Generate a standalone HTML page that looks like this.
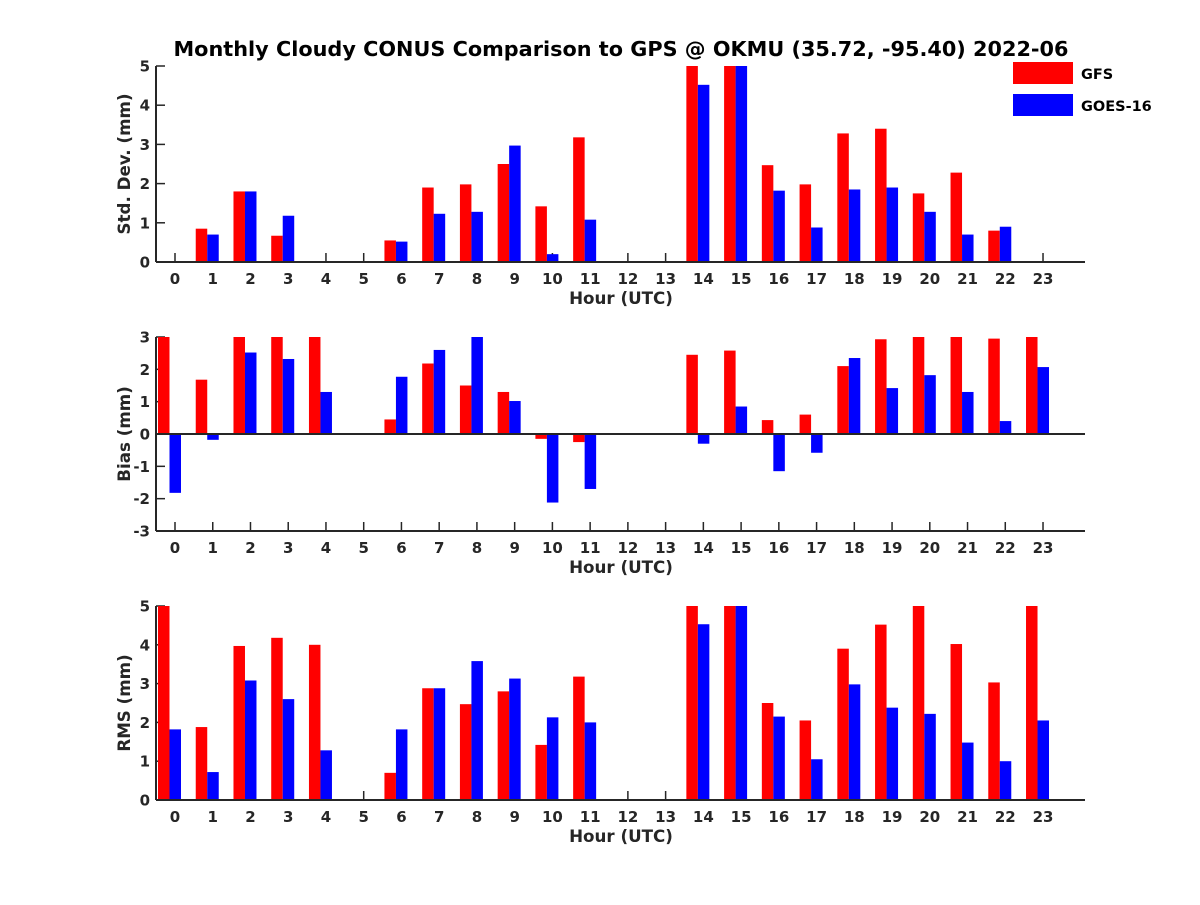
<!DOCTYPE html>
<html><head><meta charset="utf-8"><style>
body{margin:0;background:#fff}
svg text{font-family:"DejaVu Sans","Liberation Sans",sans-serif;font-weight:bold;fill:#262626}
</style></head><body>
<svg id="chart" width="1200" height="900" xmlns="http://www.w3.org/2000/svg">
<rect width="1200" height="900" fill="#fff"/>
<text x="621" y="56" text-anchor="middle" font-size="20.8" style="fill:#000">Monthly Cloudy CONUS Comparison to GPS @ OKMU (35.72, -95.40) 2022-06</text>
<g>
<rect x="1013" y="62" width="60" height="22" fill="#ff0000"/>
<text x="1081" y="79" font-size="14.5" style="fill:#000">GFS</text>
<rect x="1013" y="94" width="60" height="22" fill="#0000ff"/>
<text x="1081" y="111" font-size="14.5" style="fill:#000">GOES-16</text>
</g>
<g id="plots"></g>
</svg>
<script>
const hours=[0,1,2,3,4,5,6,7,8,9,10,11,12,13,14,15,16,17,18,19,20,21,22,23];
const stdGFS=[0,0.85,1.8,0.67,0,0,0.55,1.9,1.98,2.5,1.42,3.18,0,0,5,5,2.47,1.98,3.28,3.4,1.75,2.28,0.8,0];
const stdGOES=[0,0.7,1.8,1.18,0,0,0.52,1.23,1.28,2.97,0.2,1.08,0,0,4.52,5,1.82,0.88,1.85,1.9,1.28,0.7,0.9,0];
const biasGFS=[3,1.68,3,3,3,0,0.45,2.18,1.5,1.3,-0.15,-0.25,0,0,2.45,2.58,0.43,0.6,2.1,2.93,3,3,2.95,3];
const biasGOES=[-1.82,-0.18,2.52,2.32,1.3,0,1.77,2.6,3,1.02,-2.12,-1.7,0,0,-0.3,0.85,-1.15,-0.58,2.35,1.42,1.82,1.3,0.4,2.07];
const rmsGFS=[5,1.88,3.97,4.18,4,0,0.7,2.88,2.47,2.8,1.42,3.18,0,0,5,5,2.5,2.05,3.9,4.52,5,4.02,3.03,5];
const rmsGOES=[1.82,0.72,3.08,2.6,1.28,0,1.82,2.88,3.58,3.13,2.13,2.0,0,0,4.53,5,2.15,1.05,2.98,2.38,2.22,1.48,1.0,2.05];
const stdTicks=[0,1,2,3,4,5];
const biasTicks=[-3,-2,-1,0,1,2,3];
const rmsTicks=[0,1,2,3,4,5];
const NS="http://www.w3.org/2000/svg";
const root=document.getElementById('plots');
function mk(tag,attrs,parent){const e=document.createElementNS(NS,tag);for(const k in attrs)e.setAttribute(k,attrs[k]);parent.appendChild(e);return e;}
const x=h=>175+h*37.74;
function panel(name,top,bottom,ymin,ymax,ticks,gfs,goes,ylabel){
  const g=mk('g',{},root);
  
  
  const y=v=>bottom-(v-ymin)/(ymax-ymin)*(bottom-top);
  const y0=y(Math.max(0,ymin));
  hours.forEach(h=>{
    mk('line',{x1:x(h),y1:bottom,x2:x(h),y2:bottom-9,stroke:'#262626','stroke-width':1.5},g);
    const t=mk('text',{x:x(h),y:bottom+22,'text-anchor':'middle','font-size':15},g);
    t.textContent=h;
    
    
  });
  ticks.forEach(v=>{
    mk('line',{x1:156,y1:y(v),x2:165,y2:y(v),stroke:'#262626','stroke-width':1.5},g);
    const t=mk('text',{x:150,y:y(v)+5.5,'text-anchor':'end','font-size':15},g);
    t.textContent=v;
    
    
  });
  hours.forEach((h,i)=>{
    [[gfs[i],'#ff0000',-17,'gfs'],[goes[i],'#0000ff',-5.5,'goes']].forEach(([v,c,off,s])=>{
      if(v===0)return;
      const a=y(v),b=y0;
      const r=mk('rect',{x:x(h)+off,y:Math.min(a,b),width:11.5,height:Math.abs(a-b),fill:c},g);
      
      
    });
  });
  mk('line',{x1:156,y1:top,x2:156,y2:bottom,stroke:'#262626','stroke-width':2},g);
  mk('line',{x1:156,y1:bottom,x2:1085,y2:bottom,stroke:'#262626','stroke-width':2},g);
  if(ymin<0) mk('line',{x1:156,y1:y0,x2:1085,y2:y0,stroke:'#262626','stroke-width':2},g);
  const xt=mk('text',{x:621,y:bottom+42,'text-anchor':'middle','font-size':16.7},g);
  xt.textContent='Hour (UTC)';
  
  
  const cy=(top+bottom)/2;
  const yt=mk('text',{x:0,y:0,'text-anchor':'middle','font-size':16.7,transform:'translate(130,'+cy+') rotate(-90)'},g);
  yt.textContent=ylabel;
  
  
}
panel('std-dev',66,262,0,5,stdTicks,stdGFS,stdGOES,'Std. Dev. (mm)');
panel('bias',337,531,-3,3,biasTicks,biasGFS,biasGOES,'Bias (mm)');
panel('rms',606,800,0,5,rmsTicks,rmsGFS,rmsGOES,'RMS (mm)');
</script>
</body></html>
